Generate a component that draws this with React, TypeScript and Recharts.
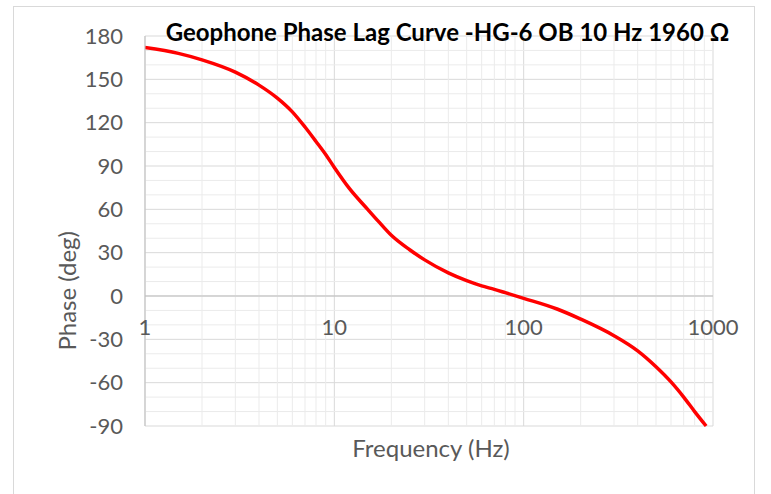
import { LineChart, Line, XAxis, YAxis, CartesianGrid, ReferenceDot, ReferenceLine } from 'recharts';

// frequency (Hz) and phase lag (deg)
const freq = [1, 1.5, 2, 3, 4, 5, 6, 7, 8, 9, 10, 12, 15, 17, 20, 25, 30, 40, 50, 60, 70, 80, 100, 150, 200, 300, 400, 500, 600, 700, 800, 920];
const phase = [172, 168, 163.5, 155, 146, 137, 127.5, 117, 107, 98, 89, 74.5, 60, 52, 42, 32, 25, 16, 10.6, 7, 4.6, 2.3, -1.6, -9, -16, -27.5, -38, -49, -59.5, -70, -80, -90];

const xTicks = [1, 10, 100, 1000];
const yTicks = [-90, -60, -30, 0, 30, 60, 90, 120, 150, 180];

const xMinor = [2, 3, 4, 5, 6, 7, 8, 9, 20, 30, 40, 50, 60, 70, 80, 90, 200, 300, 400, 500, 600, 700, 800, 900];
const yMinor = [-80, -70, -50, -40, -20, -10, 10, 20, 40, 50, 70, 80, 100, 110, 130, 140, 160, 170];

const data = freq.map((f, i) => ({ f, phase: phase[i] }));

const font = 'Lato, "Open Sans", sans-serif';
const grey = '#595959';

const App = () => {
  return (
    <div style={{ position: 'absolute', left: 0, top: 0, width: 771, height: 494, background: '#fff', fontFamily: font }}>
      <div style={{ position: 'absolute', left: 13, top: 6, width: 740, height: 500, border: '1px solid #D9D9D9' }} />
      <LineChart width={771} height={494} data={data} margin={{ top: 36, right: 58, bottom: 68, left: 85 }}>
        {xMinor.map((v) => (
          <ReferenceLine key={'x' + v} x={v} stroke="#EBEBEB" strokeWidth={1} />
        ))}
        {yMinor.map((v) => (
          <ReferenceLine key={'y' + v} y={v} stroke="#EBEBEB" strokeWidth={1} />
        ))}
        <CartesianGrid stroke="#D9D9D9" strokeWidth={1} />
        <XAxis
          dataKey="f"
          type="number"
          scale="log"
          domain={[1, 1000]}
          ticks={xTicks}
          hide
          allowDataOverflow
        />
        <YAxis
          type="number"
          domain={[-90, 180]}
          ticks={yTicks}
          width={60}
          tickSize={0}
          tickMargin={22}
          axisLine={{ stroke: '#BFBFBF' }}
          tickLine={false}
          tick={{ fill: grey, fontSize: 22, fontFamily: font }}
          label={{ value: 'Phase (deg)', angle: -90, position: 'left', offset: 18, fill: grey, fontSize: 24, fontFamily: font }}
        />
        <ReferenceLine y={0} stroke="#BFBFBF" strokeWidth={1} />
        {xTicks.map((t) => (
          <ReferenceDot
            key={t}
            x={t}
            y={0}
            r={0}
            stroke="none"
            fill="none"
            label={{ value: String(t), position: 'bottom', offset: 23, fill: grey, fontSize: 22, fontFamily: font }}
          />
        ))}
        <Line type="monotone" dataKey="phase" stroke="#FF0000" strokeWidth={3.5} dot={false} isAnimationActive={false} />
      </LineChart>
      <div style={{ position: 'absolute', left: 0, width: 771, top: 17, textAlign: 'center', paddingLeft: 124, boxSizing: 'border-box', fontWeight: 700, fontSize: 24, color: '#000' }}>
        Geophone Phase Lag Curve -HG-6 OB 10 Hz 1960 Ω
      </div>
      <div style={{ position: 'absolute', left: 0, width: 771, top: 433, textAlign: 'center', paddingLeft: 91, boxSizing: 'border-box', fontSize: 24, color: grey }}>
        Frequency (Hz)
      </div>
    </div>
  );
};

export default App;
